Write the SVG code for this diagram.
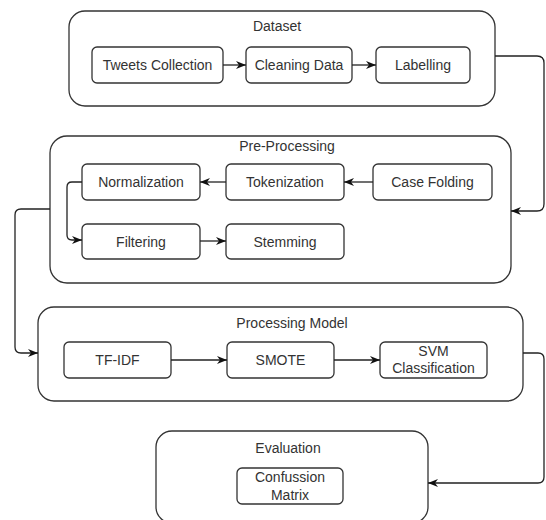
<svg xmlns="http://www.w3.org/2000/svg" width="546" height="520" viewBox="0 0 546 520">
  <defs>
    <marker id="arrow" viewBox="0 0 10 8" refX="10" refY="4" markerWidth="10" markerHeight="8" markerUnits="userSpaceOnUse" orient="auto">
      <path d="M0,0 L10,4 L0,8 L3,4 Z" fill="#111"/>
    </marker>
    <style>
      .group { fill: #fff; stroke: #333; stroke-width: 1.3; }
      .box { fill: #fff; stroke: #333; stroke-width: 1.3; }
      .edge { fill: none; stroke: #222; stroke-width: 1.3; marker-end: url(#arrow); }
      text { font-family: "Liberation Sans", Arial, sans-serif; font-size: 14px; fill: #333; text-anchor: middle; dominant-baseline: central; }
    </style>
  </defs>
  <rect width="546" height="520" fill="#fff"/>

  <!-- Dataset stage -->
  <g id="dataset">
    <rect class="group" x="69" y="11" width="426" height="95" rx="16"/>
    <text x="277" y="26">Dataset</text>
  </g>
  <g id="tweets-collection">
    <rect class="box" x="92" y="47" width="131" height="36" rx="5"/>
    <text x="157.5" y="65">Tweets Collection</text>
  </g>
  <g id="cleaning-data">
    <rect class="box" x="246" y="47" width="106" height="36" rx="5"/>
    <text x="299" y="65">Cleaning Data</text>
  </g>
  <g id="labelling">
    <rect class="box" x="376" y="47" width="94" height="36" rx="5"/>
    <text x="423" y="65">Labelling</text>
  </g>

  <!-- Pre-processing stage -->
  <g id="pre-processing">
    <rect class="group" x="50" y="136" width="461" height="147" rx="17"/>
    <text x="287" y="146">Pre-Processing</text>
  </g>
  <g id="normalization">
    <rect class="box" x="82" y="164" width="118" height="36" rx="5"/>
    <text x="141" y="182">Normalization</text>
  </g>
  <g id="tokenization">
    <rect class="box" x="226" y="164" width="118" height="36" rx="5"/>
    <text x="285" y="182">Tokenization</text>
  </g>
  <g id="case-folding">
    <rect class="box" x="373" y="164" width="119" height="36" rx="5"/>
    <text x="432.5" y="182">Case Folding</text>
  </g>
  <g id="filtering">
    <rect class="box" x="82" y="224" width="118" height="35" rx="5"/>
    <text x="141" y="241.5">Filtering</text>
  </g>
  <g id="stemming">
    <rect class="box" x="226" y="224" width="118" height="35" rx="5"/>
    <text x="285" y="241.5">Stemming</text>
  </g>

  <!-- Processing model stage -->
  <g id="processing-model">
    <rect class="group" x="38" y="307" width="485" height="94" rx="16"/>
    <text x="292" y="323">Processing Model</text>
  </g>
  <g id="tf-idf">
    <rect class="box" x="64" y="342" width="107" height="36" rx="5"/>
    <text x="117.5" y="360">TF-IDF</text>
  </g>
  <g id="smote">
    <rect class="box" x="227" y="342" width="107" height="36" rx="5"/>
    <text x="280.5" y="360">SMOTE</text>
  </g>
  <g id="svm-classification">
    <rect class="box" x="380" y="342" width="107" height="36" rx="5"/>
    <text x="433.5" y="351">SVM</text>
    <text x="433.5" y="368">Classification</text>
  </g>

  <!-- Evaluation stage -->
  <g id="evaluation">
    <rect class="group" x="156" y="431" width="272" height="92" rx="16"/>
    <text x="288" y="448">Evaluation</text>
  </g>
  <g id="confussion-matrix">
    <rect class="box" x="237" y="468" width="106" height="36" rx="5"/>
    <text x="290" y="477">Confussion</text>
    <text x="290" y="495">Matrix</text>
  </g>

  <!-- Connectors -->
  <g id="connectors">
    <path class="edge" d="M223,65 L246,65"/>
    <path class="edge" d="M352,65 L376,65"/>
    <path class="edge" d="M495,56 L537,56 Q544,56 544,63 L544,204 Q544,211 537,211 L511,211"/>
    <path class="edge" d="M373,182 L344,182"/>
    <path class="edge" d="M226,182 L200,182"/>
    <path class="edge" d="M82,182 L72,182 Q67,182 67,187 L67,235 Q67,240 72,240 L82,240"/>
    <path class="edge" d="M200,241 L226,241"/>
    <path class="edge" d="M50,209 L21,209 Q15,209 15,215 L15,347 Q15,353 21,353 L38,353"/>
    <path class="edge" d="M171,360 L227,360"/>
    <path class="edge" d="M334,360 L380,360"/>
    <path class="edge" d="M523,353 L538,353 Q544,353 544,359 L544,477 Q544,483 538,483 L428,483"/>
  </g>
</svg>
